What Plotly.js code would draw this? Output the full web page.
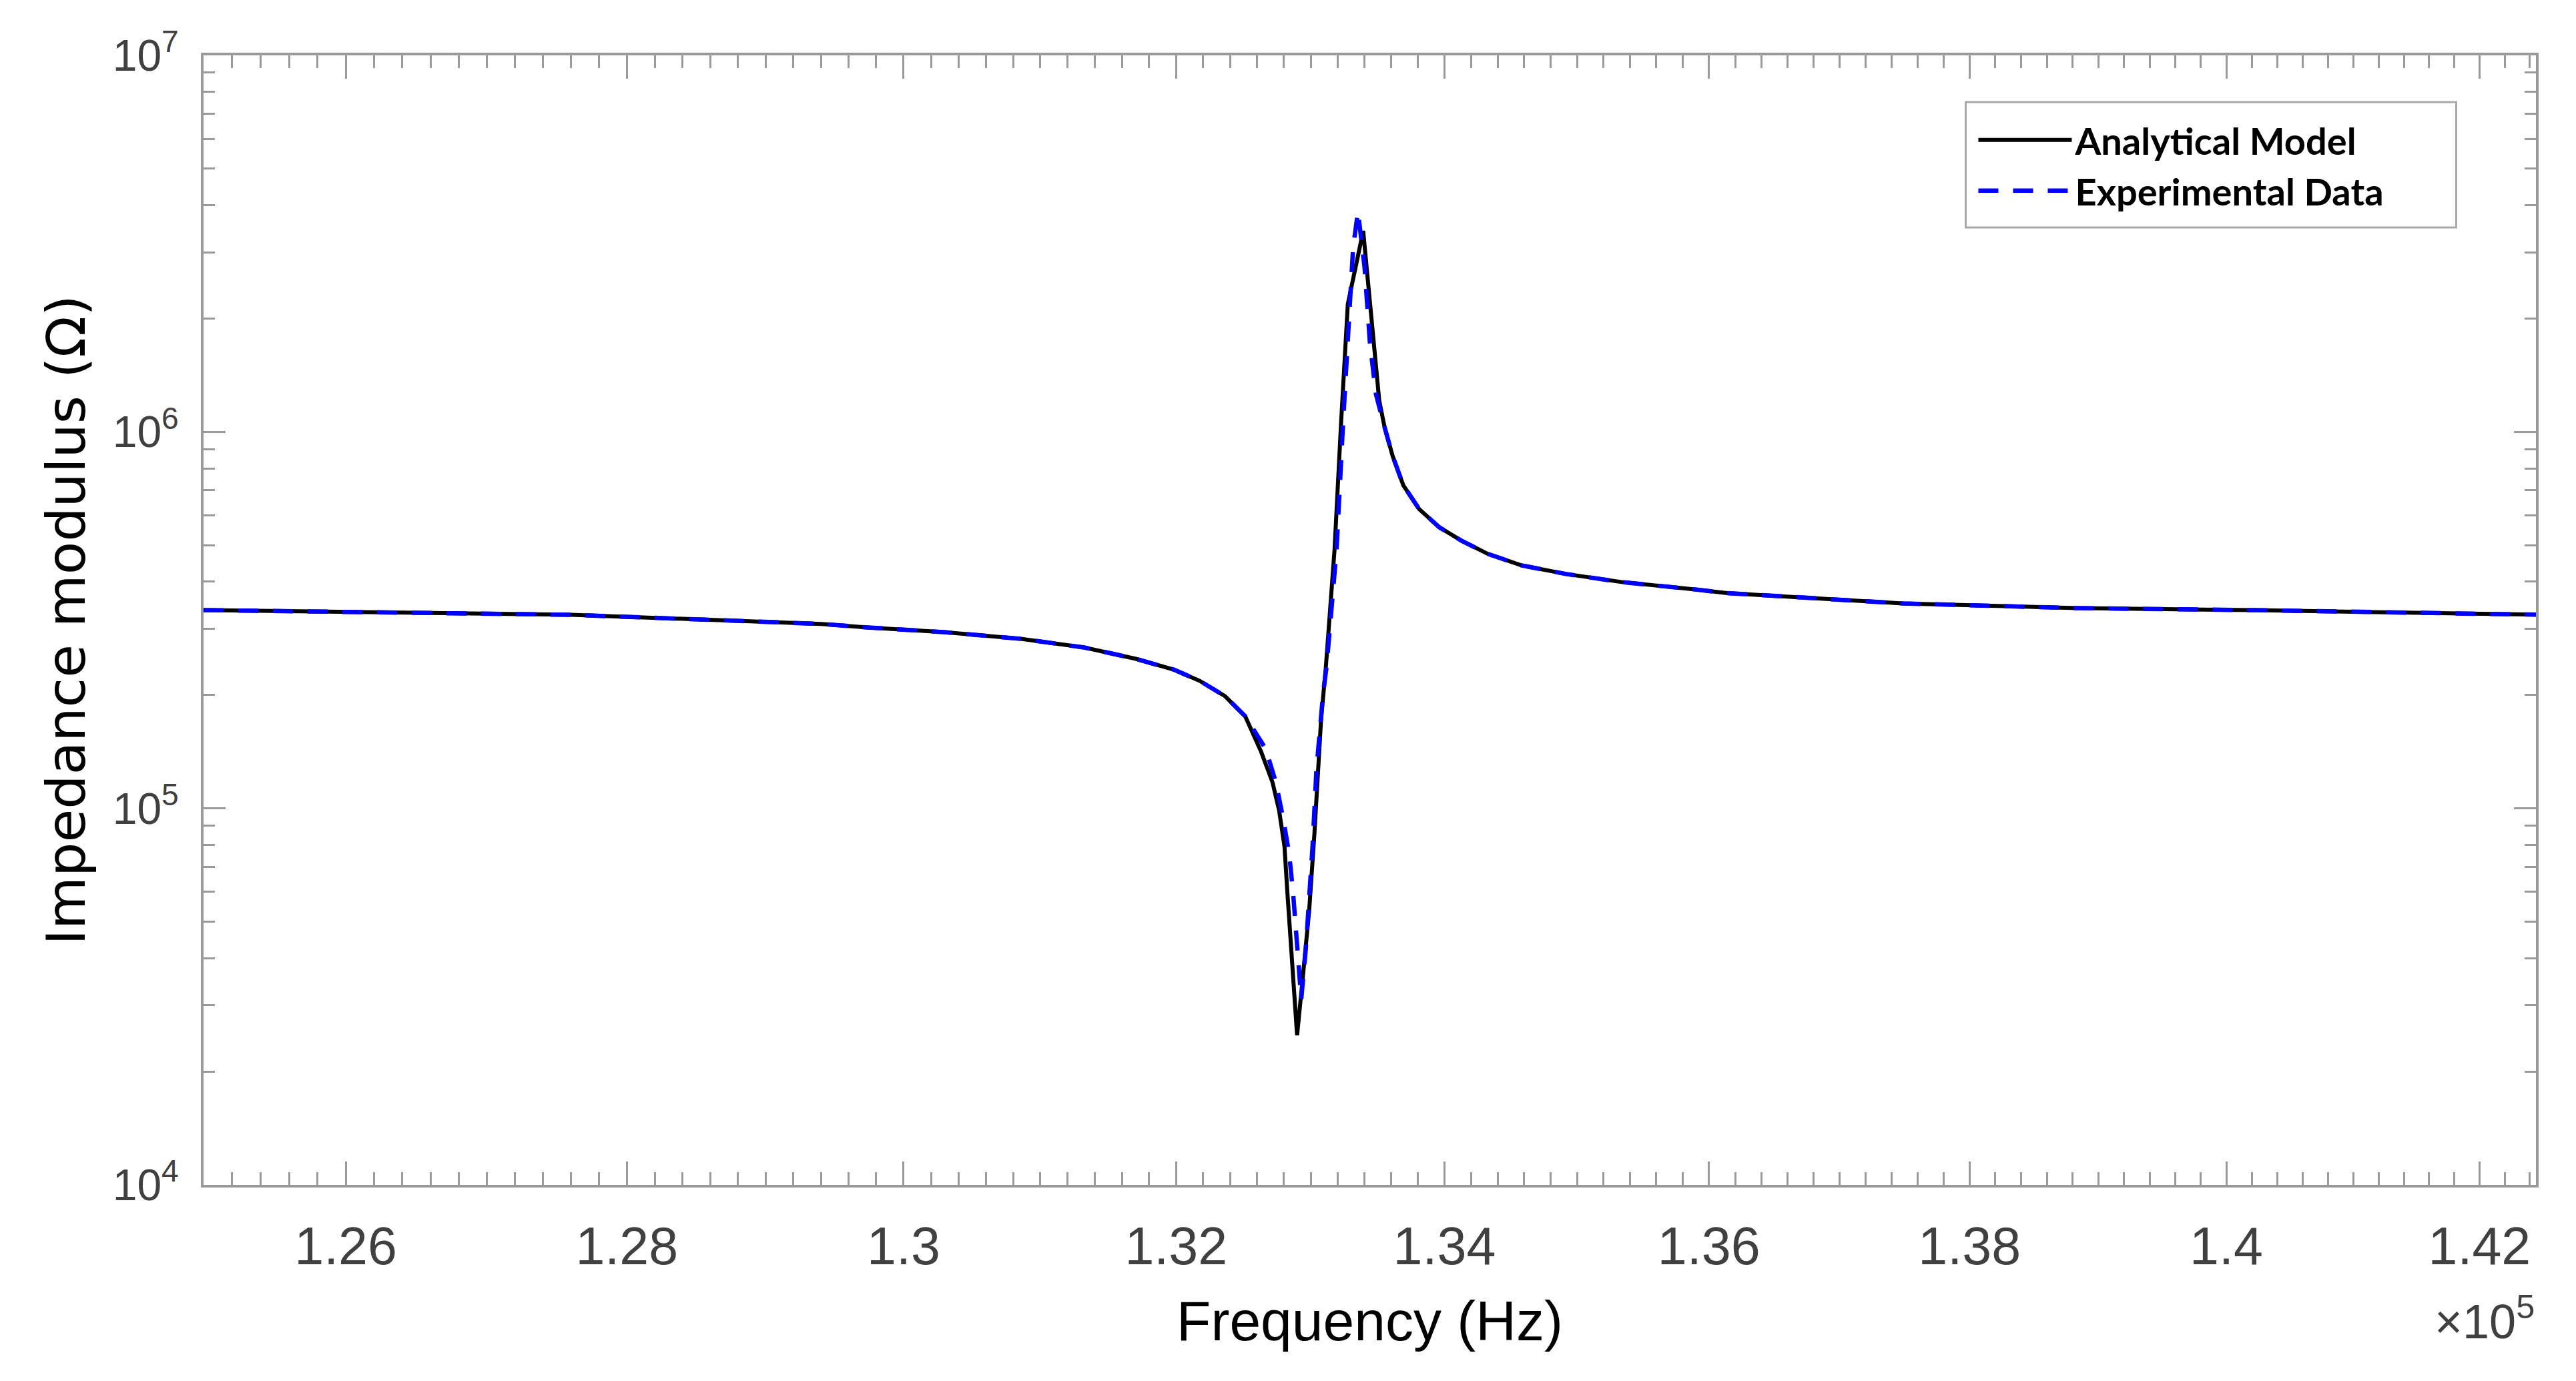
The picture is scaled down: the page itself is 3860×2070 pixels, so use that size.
<!DOCTYPE html>
<html>
<head>
<meta charset="utf-8">
<script src="https://cdn.plot.ly/plotly-3.0.1.min.js"></script>
<style>
html, body { margin: 0; padding: 0; background: #ffffff; }
#displayGraphDiv { width: 3860px; height: 2070px; }
</style>
</head>
<body>
<div id="displayGraphDiv"></div>
<script>

// values (Hz, Ohm)
var freqModel = [125000, 127600, 129400, 129736, 130294, 130856, 131322, 131702, 131982, 132175,
  132363, 132512, 132630, 132715, 132764, 132804, 132828, 132863, 132898, 132943,
  132988, 133027, 133077, 133112, 133177, 133226, 133276, 133391, 133436, 133466,
  133486, 133511, 133551, 133611, 133691, 133811, 133961, 134127, 134327, 134578,
  134916, 135335, 135843, 136138, 137484, 138842, 140214, 142500];
var zModel = [336200, 326700, 309000, 302400, 293800, 282000, 267500, 249600, 233700, 218100,
  198600, 175700, 141500, 117300, 98780, 79230, 58100, 39260, 24960, 36340,
  53550, 85620, 172900, 236600, 485700, 1058800, 2181000, 3418000, 2319000, 1822800,
  1485900, 1211500, 1029000, 863300, 721400, 622900, 557900, 514100, 473900, 442000,
  419200, 399200, 383200, 373000, 350300, 340200, 336200, 326700];

var freqExp = [125000, 127600, 129400, 129736, 130294, 130856, 131322, 131702, 131982, 132175,
  132363, 132512, 132665, 132740, 132794, 132839, 132868, 132888, 132903, 132929,
  132963, 132988, 133013, 133042, 133092, 133117, 133192, 133241, 133291, 133316,
  133352, 133401, 133441, 133486, 133551, 133611, 133691, 133811, 133961, 134127,
  134327, 134578, 134916, 135335, 135843, 136138, 137484, 138842, 140214, 142500];
var zExp = [336200, 326700, 309000, 302400, 293800, 282000, 267500, 249600, 233700, 218100,
  198600, 175700, 143800, 117300, 94060, 75750, 59780, 48150, 39260, 31110,
  42430, 58100, 79230, 126700, 202700, 236600, 485700, 1058800, 2181000, 3098000,
  3847000, 2741000, 1728000, 1260000, 1029000, 863300, 721400, 622900, 557900, 514100,
  473900, 442000, 419200, 399200, 383200, 373000, 350300, 340200, 336200, 326700];

var xTickVals = [126000, 128000, 130000, 132000, 134000, 136000, 138000, 140000, 142000];
var xTickText = ['1.26', '1.28', '1.3', '1.32', '1.34', '1.36', '1.38', '1.4', '1.42'];
var yTickVals = [1e4, 1e5, 1e6, 1e7];
var yTickText = ['10<sup>4</sup>', '10<sup>5</sup>', '10<sup>6</sup>', '10<sup>7</sup>'];

var xMin = 125000;
var xMax = 142450;

function minorX() {
	var vals = [];
	for (let f = 125000; f <= 142400; f += 200) {
		if (f % 2000 !== 0) vals.push(f);
	}
	return vals;
}

function minorY() {
	var vals = [];
	for (let p = 4; p < 7; p++) {
		for (let m = 2; m < 10; m++) {
			vals.push(m * Math.pow(10, p));
		}
	}
	return vals;
}

function displayGraph() {

	var tickFamily = 'Liberation Sans Narrow, Arial Narrow, Liberation Sans, Arial';
	var axisGrey = '#9a9a9a';

	var trace1 = {
		x: freqModel,
		y: zModel,
		name: 'Analytical Model',
		type: 'scatter',
		mode: 'lines',
		line: {color: '#000000', width: 6}
	};

	var trace2 = {
		x: freqExp,
		y: zExp,
		name: 'Experimental Data',
		type: 'scatter',
		mode: 'lines',
		line: {color: '#0000ff', width: 6.5, dash: '30px,22px'}
	};

	var data = [trace1, trace2];

	var layout = {
		width: 3860,
		height: 2070,
		margin: {l: 305, r: 60, t: 83, b: 294},
		paper_bgcolor: '#ffffff',
		plot_bgcolor: '#ffffff',
		showlegend: true,
		legend: {
			x: 0.7595, y: 0.9504, xanchor: 'left', yanchor: 'top',
			bgcolor: 'rgba(0,0,0,0)', borderwidth: 0,
			font: {family: 'Lato, Open Sans, sans-serif', size: 56, color: '#000000', weight: 'bold'},
			itemwidth: 140
		},
		// frame round the legend, as wide as in the picture
		shapes: [{
			type: 'rect', xref: 'paper', yref: 'paper',
			x0: 0.7555, x1: 0.9658, y0: 0.8476, y1: 0.9587,
			line: {color: '#a8a8a8', width: 3},
			fillcolor: 'rgba(0,0,0,0)',
			layer: 'above'
		}],
		xaxis: {
			type: 'log',
			range: [Math.log10(xMin), Math.log10(xMax)],
			tickmode: 'array',
			tickvals: xTickVals,
			ticktext: xTickText,
			ticks: 'inside',
			ticklen: 35,
			tickwidth: 3,
			tickcolor: axisGrey,
			tickfont: {family: tickFamily, size: 79, color: '#404040'},
			ticklabelstandoff: 20,
			showline: true,
			linecolor: axisGrey,
			linewidth: 4,
			mirror: 'ticks',
			showgrid: false,
			zeroline: false,
			minor: {tickmode: 'array', tickvals: minorX(), ticks: 'inside', ticklen: 19, tickwidth: 3, tickcolor: axisGrey, showgrid: false},
			title: {text: 'Frequency (Hz)', standoff: 40, font: {family: 'Liberation Sans, Arial', size: 84, color: '#000000'}}
		},
		yaxis: {
			type: 'log',
			range: [4, 7],
			tickmode: 'array',
			tickvals: yTickVals,
			ticktext: yTickText,
			ticks: 'inside',
			ticklen: 33,
			tickwidth: 3,
			tickcolor: axisGrey,
			tickfont: {family: tickFamily, size: 66, color: '#404040'},
			ticklabelstandoff: 20,
			showline: true,
			linecolor: axisGrey,
			linewidth: 4,
			mirror: 'ticks',
			showgrid: false,
			zeroline: false,
			minor: {tickmode: 'array', tickvals: minorY(), ticks: 'inside', ticklen: 17, tickwidth: 3, tickcolor: axisGrey, showgrid: false},
			title: {text: 'Impedance modulus (\u03A9)', standoff: 15, font: {family: 'DejaVu Sans', size: 81, color: '#000000'}}
		},
		annotations: [{
			text: '\u00D710<sup>5</sup>',
			xref: 'paper', yref: 'paper',
			x: 1.0, y: -0.118,
			xanchor: 'right', yanchor: 'middle',
			showarrow: false,
			font: {family: tickFamily, size: 72, color: '#404040'}
		}]
	};

	Plotly.newPlot('displayGraphDiv', data, layout, {staticPlot: true});
}

displayGraph();

</script>
</body>
</html>
